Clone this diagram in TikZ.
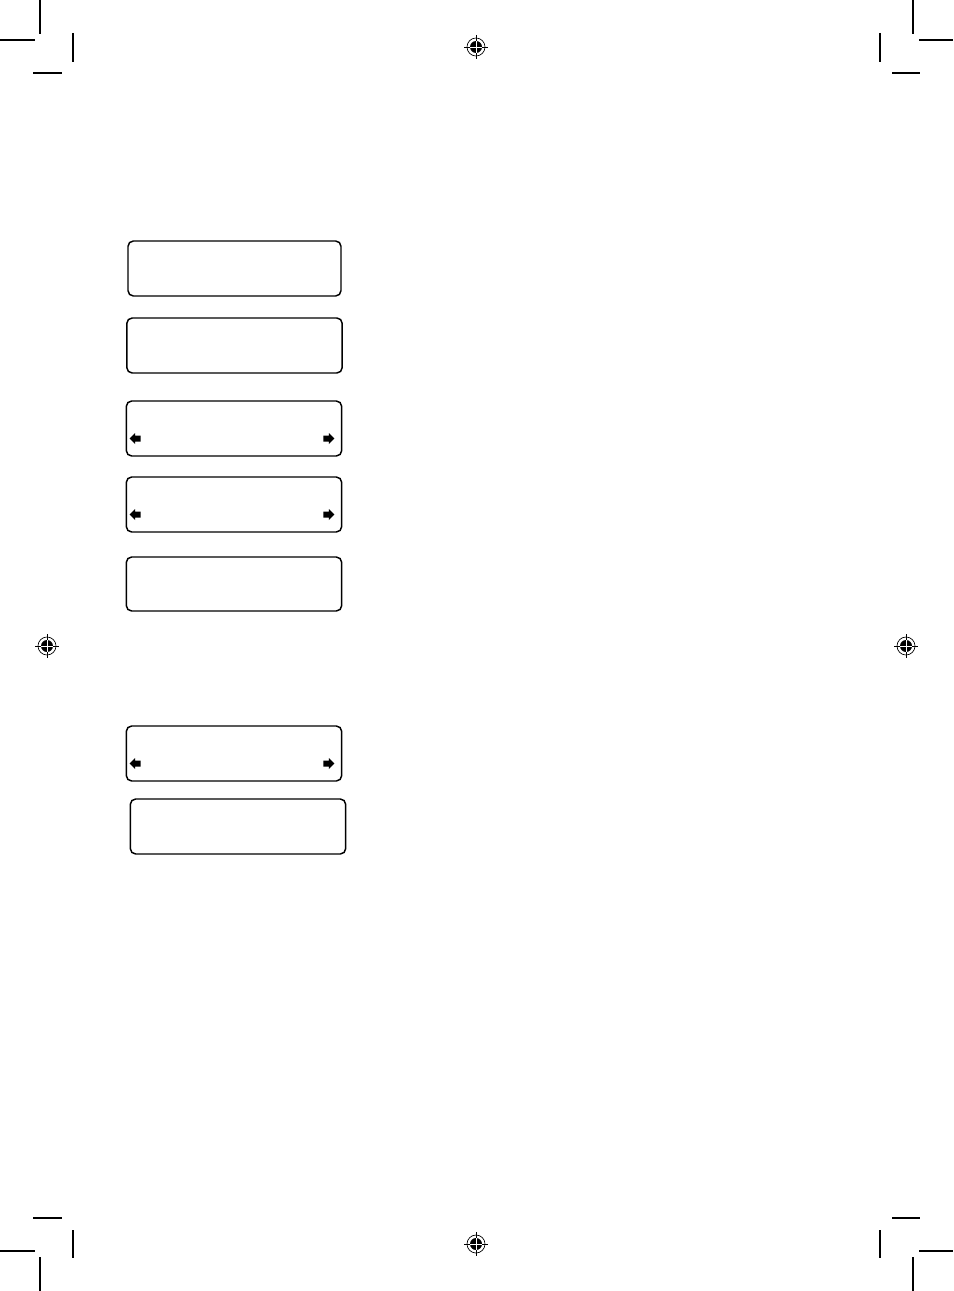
\documentclass[tikz,border=0pt]{standalone}
\usepackage{tikz}

\begin{document}
\begin{tikzpicture}[x=0.75pt, y=-0.75pt]
\tikzset{ecran/.style={draw, line width=1.1pt, rounded corners=4pt, inner sep=0pt, minimum width=161.5pt, minimum height=41.25pt},
  trait/.style={line width=0.8pt},
  flecheg/.pic={\fill (0,0) -- (5.5,-5.5) -- (5.5,-3) -- (11,-3) -- (11,3) -- (5.5,3) -- (5.5,5.5) -- cycle;},
  fleched/.pic={\fill (0,0) -- (-5.5,-5.5) -- (-5.5,-3) -- (-11,-3) -- (-11,3) -- (-5.5,3) -- (-5.5,5.5) -- cycle;},
  repere/.pic={\draw[line width=0.5pt] (0,0) circle (9);
    \fill (0,0) circle (6);
    \draw[line width=0.6pt] (-12,0) -- (12,0) (0,-12) -- (0,12);
    \draw[white, line width=0.5pt] (-6,0) -- (6,0) (0,-6) -- (0,6);}}
\useasboundingbox (0,0) rectangle (953,1291);
% traits de coupe
\draw[trait] (40,0) -- (40,34) (0,40) -- (35,40) (73,33) -- (73,62) (33,73) -- (62,73);
\draw[trait] (913,0) -- (913,34) (919,40) -- (953,40) (880,33) -- (880,62) (892,73) -- (920,73);
\draw[trait] (40,1257) -- (40,1291) (0,1251) -- (35,1251) (73,1230) -- (73,1258) (33,1218) -- (62,1218);
\draw[trait] (913,1257) -- (913,1291) (919,1251) -- (953,1251) (880,1230) -- (880,1258) (892,1218) -- (920,1218);
% reperes
\pic at (476,47) {repere};
\pic at (47,646) {repere};
\pic at (906,646) {repere};
\pic at (476,1244) {repere};
% ecrans
\node[ecran, minimum width=159.75pt] (E1) at (234.5,268.5) {};
\node[ecran] (E2) at (234.5,345.5) {};
\node[ecran] (E3) at (234,428.5) {};
\node[ecran] (E4) at (234,504.5) {};
\node[ecran, minimum height=40.5pt] (E5) at (234,584) {};
\node[ecran] (E6) at (234,753.5) {};
\node[ecran] (E7) at (238,826.5) {};
\path (E3.west) ++(4,10) pic {flecheg};
\path (E3.east) ++(-8,10) pic {fleched};
\path (E4.west) ++(4,10) pic {flecheg};
\path (E4.east) ++(-8,10) pic {fleched};
\path (E6.west) ++(4,10) pic {flecheg};
\path (E6.east) ++(-8,10) pic {fleched};
\end{tikzpicture}
\end{document}
